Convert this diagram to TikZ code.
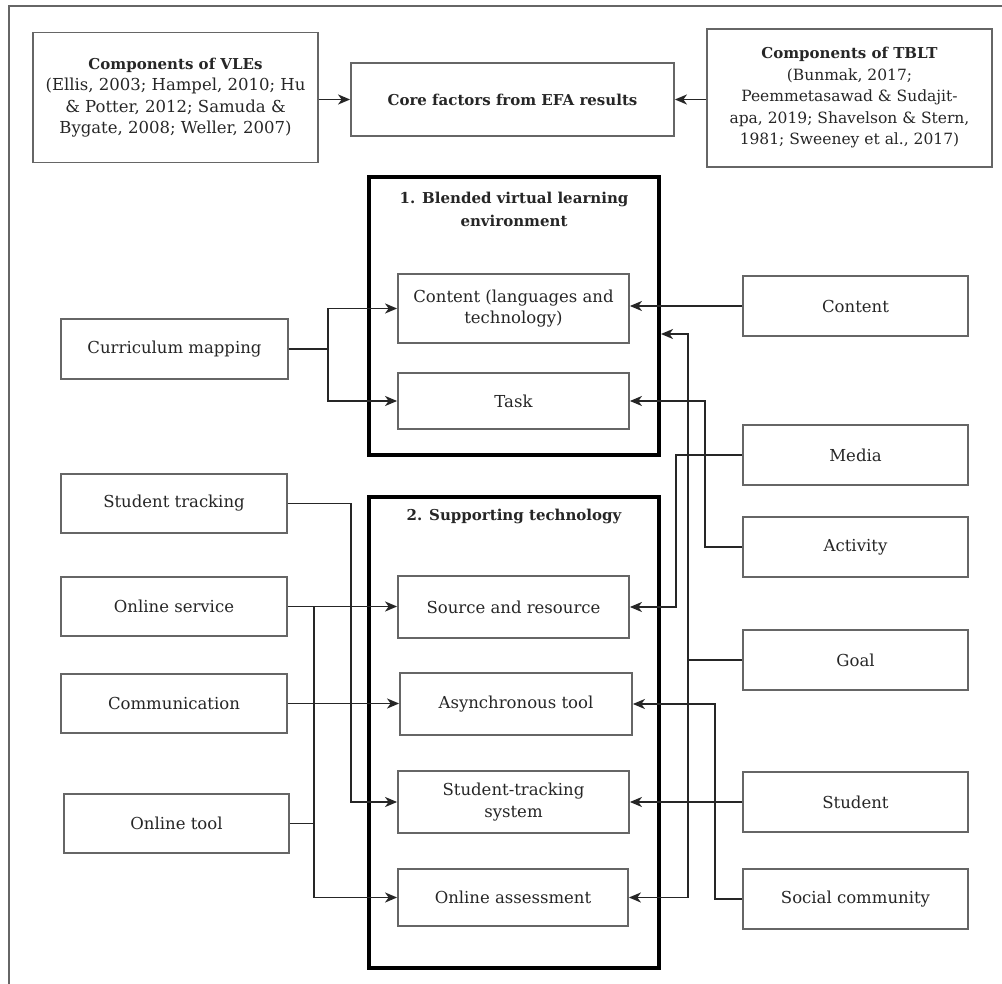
\documentclass[tikz,border=0pt]{standalone}
\usepackage{fontspec}
\setmainfont{DejaVu Serif}
\usetikzlibrary{arrows.meta}
\definecolor{ink}{HTML}{262626}
\definecolor{boxline}{HTML}{666666}
\begin{document}
\begin{tikzpicture}[x=1pt,y=-1pt,
  every node/.style={font=\fontsize{16.5}{21.5}\selectfont, text=ink, align=center, inner sep=0pt},
  ttl/.style={font=\fontsize{15}{23}\selectfont\bfseries},
  sbox/.style={draw=boxline, line width=1.8pt, minimum width=#1},
  sbox/.default=225,
  bigbox/.style={draw=black, line width=4pt},
  conn/.style={draw=ink, line width=1.7pt},
  arr/.style={conn, -{Stealth[length=12pt,width=10pt,inset=3.5pt]}}
]
\useasboundingbox (0,0) rectangle (1002,984);
\fill[white] (0,0) rectangle (1002,984);
% outer frame (top and left edges visible)
\draw[boxline, line width=2pt] (9,1002) -- (9,6) -- (1010,6);

% top row
\node[sbox=285, minimum height=130] (vle) at (175.5,97.5)
  {{\fontsize{15}{21.5}\selectfont\bfseries Components of VLEs}\\(Ellis, 2003; Hampel, 2010; Hu\\\& Potter, 2012; Samuda \&\\Bygate, 2008; Weller, 2007)};
\node[sbox=323, minimum height=73, ttl] (core) at (512.5,99.5) {Core factors from EFA results};
\node[sbox=285, minimum height=138, font=\fontsize{15.5}{21.5}\selectfont] (tblt) at (849.5,98)
  {{\fontsize{15}{21.5}\selectfont\bfseries Components of TBLT}\\(Bunmak, 2017;\\Peemmetasawad \& Sudajit-\\apa, 2019; Shavelson \& Stern,\\1981; Sweeney et al., 2017)};

% big boxes
\node[bigbox, minimum width=290, minimum height=278] (box1) at (514,316) {};
\node[ttl] (t1) at (514,209) {1. Blended virtual learning\\environment};
\node[bigbox, minimum width=290, minimum height=471] (box2) at (514,732.5) {};
\node[ttl] (t2) at (514,516) {2. Supporting technology};

% inner boxes
\node[sbox=231, minimum height=69] (content) at (513.5,308.5) {Content (languages and\\technology)};
\node[sbox=231, minimum height=56] (task) at (513.5,401) {Task};
\node[sbox=231, minimum height=62] (source) at (513.5,607) {Source and resource};
\node[sbox=232, minimum height=62] (async) at (516,704) {Asynchronous tool};
\node[sbox=231, minimum height=62] (sts) at (513.5,802) {Student-tracking\\system};
\node[sbox=230, minimum height=57] (oa) at (513,897.5) {Online assessment};

% left column
\node[sbox=227, minimum height=60] (cm) at (174.5,349) {Curriculum mapping};
\node[sbox=226, minimum height=59] (st) at (174,503.5) {Student tracking};
\node[sbox=226, minimum height=59] (os) at (174,606.5) {Online service};
\node[sbox=226, minimum height=59] (comm) at (174,703.5) {Communication};
\node[sbox=225, minimum height=59] (ot) at (176.5,823.5) {Online tool};

% right column
\node[sbox, minimum height=60] (rcontent) at (855.5,306) {Content};
\node[sbox, minimum height=60] (media) at (855.5,455) {Media};
\node[sbox, minimum height=60] (activity) at (855.5,547) {Activity};
\node[sbox, minimum height=60] (goal) at (855.5,660) {Goal};
\node[sbox, minimum height=60] (student) at (855.5,802) {Student};
\node[sbox, minimum height=60] (social) at (855.5,899) {Social community};

% junction points
\coordinate (cmj) at (328,349);
\coordinate (stj) at (351,503.5);
\coordinate (osj) at (314,606.5);
\coordinate (otj) at (314,823.5);
\coordinate (mej) at (676,455);
\coordinate (acj) at (705,547);
\coordinate (goj) at (688,660);
\coordinate (b1in) at (661,334);
\coordinate (soj) at (715,899);

% top connectors
\draw[arr] (vle.east |- core.west) -- (core.west);
\draw[arr] (tblt.west |- core.east) -- (core.east);

% left connectors
\draw[conn] (cm.east) -- (cmj);
\draw[arr] (cmj) |- (content.west);
\draw[arr] (cmj) |- (task.west);
\draw[arr] (st.east) -- (stj) |- (sts.west);
\draw[arr] (os.east) -- (os.east -| source.west);
\draw[arr] (osj) |- (oa.west);
\draw[conn] (ot.east) -- (otj);
\draw[arr] (comm.east) -- (comm.east -| async.west);

% right connectors
\draw[arr] (rcontent.west) -- (rcontent.west -| content.east);
\draw[arr] (media.west) -- (mej) |- (source.east);
\draw[arr] (activity.west) -- (acj) |- (task.east);
\draw[conn] (goal.west) -- (goj);
\draw[arr] (goj) |- (b1in);
\draw[arr] (goj) |- (oa.east);
\draw[arr] (student.west) -- (student.west -| sts.east);
\draw[arr] (social.west) -- (soj) |- (async.east);
\end{tikzpicture}
\end{document}
